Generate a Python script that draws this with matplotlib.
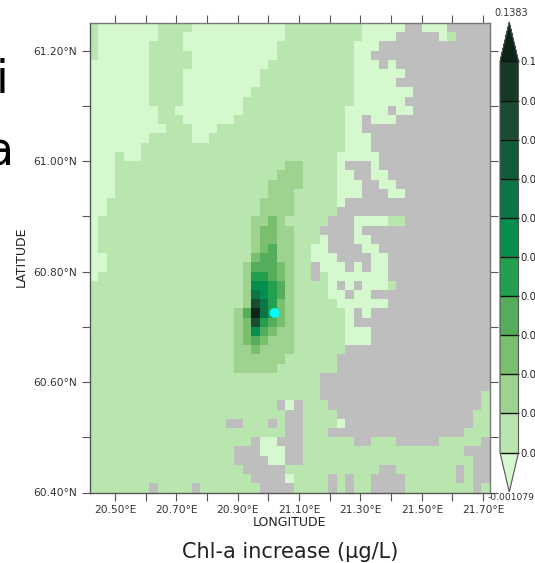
import matplotlib
matplotlib.use('Agg')
import numpy as np
import matplotlib.pyplot as plt
from matplotlib.colors import ListedColormap, BoundaryNorm
from matplotlib.colorbar import ColorbarBase

# each row north to south: "bin:last column of the run", # = land (no data)
rows = [
    "1:0 0:7 1:11 0:22 1:31 0:36 #:38 0:41 #:46",
    "1:0 0:7 1:10 0:22 1:31 0:35 #:40 0:41 1:42 #:46",
    "1:0 0:6 1:10 0:21 1:30 0:33 #:46",
    "1:0 0:6 1:11 0:21 1:30 0:32 #:46",
    "0:6 1:11 0:20 1:30 0:33 #:34 0:35 #:46",
    "0:6 1:10 0:19 1:30 0:36 #:46",
    "0:6 1:10 0:19 1:30 0:35 #:46",
    "0:6 1:10 0:18 1:30 0:37 #:46",
    "0:6 1:10 0:17 1:30 0:36 #:46",
    "0:7 1:9 0:17 1:29 0:34 #:35 0:37 #:46",
    "0:7 1:10 0:16 1:29 0:31 #:32 0:35 #:46",
    "0:8 1:11 0:14 1:29 0:31 #:46",
    "0:6 1:11 0:13 1:29 0:32 #:46",
    "0:5 1:29 0:32 #:46",
    "0:2 1:3 0:5 1:28 0:33 #:46",
    "0:2 1:22 2:24 1:28 0:29 #:32 0:33 #:46",
    "0:2 1:21 2:24 1:28 0:30 #:32 0:34 #:46",
    "0:2 1:20 2:24 1:28 0:31 #:33 0:35 #:46",
    "0:2 1:20 2:23 1:28 0:31 #:34 0:36 #:46",
    "0:1 1:19 2:23 1:28 0:29 #:46",
    "0:1 1:19 2:23 1:28 #:46",
    "0:0 1:18 2:20 3:21 2:22 1:27 #:30 0:34 1:36 #:46",
    "0:0 1:18 2:19 3:21 2:23 1:26 #:30 0:31 #:46",
    "0:0 1:18 2:19 3:21 2:23 1:26 0:27 #:30 0:32 #:46",
    "0:0 1:18 2:19 3:20 4:21 2:23 1:25 0:27 #:31 0:33 #:46",
    "0:1 1:18 3:19 4:21 2:23 1:25 0:28 #:32 0:34 #:46",
    "0:1 1:17 2:18 4:21 3:22 2:23 1:25 #:26 0:29 #:30 0:31 #:32 0:34 #:46",
    "0:0 1:17 2:18 5:20 4:21 3:22 2:23 1:25 #:26 1:27 0:34 #:46",
    "1:17 2:18 6:20 5:21 4:22 2:23 1:27 0:28 #:29 0:30 #:31 0:34 1:35 #:46",
    "1:17 2:18 7:19 6:20 5:21 4:22 2:23 1:27 0:29 #:30 0:32 #:46",
    "1:17 2:18 9:19 7:20 5:21 3:22 2:23 1:28 0:34 #:46",
    "1:16 2:17 4:18 b:19 7:20 5:21 3:22 2:23 1:29 0:30 #:31 0:32 #:46",
    "1:16 2:17 3:18 9:19 5:20 4:21 3:22 2:23 1:29 0:30 #:46",
    "1:16 2:17 3:18 6:19 4:20 3:21 2:23 1:29 0:32 #:46",
    "1:16 2:17 3:18 4:19 3:20 2:23 1:29 0:32 #:46",
    "1:16 2:18 3:19 2:23 1:29 #:46",
    "1:16 2:22 1:28 #:46",
    "1:16 2:21 1:28 #:46",
    "1:26 #:46",
    "1:26 #:46",
    "1:26 #:45 1:46",
    "1:21 #:22 0:23 #:24 1:27 #:45 1:46",
    "1:22 #:24 1:28 #:44 1:46",
    "1:15 #:17 1:20 #:21 1:22 #:24 1:28 0:29 #:44 1:46",
    "1:22 #:24 1:27 #:43 1:46",
    "1:18 #:19 0:21 #:24 1:30 #:32 1:35 #:40 1:45 #:46",
    "1:16 #:19 0:22 #:24 1:43 #:46",
    "1:16 #:20 0:22 #:24 1:44 #:46",
    "1:17 #:22 1:33 #:35 1:42 #:43 1:44 #:46",
    "1:18 #:22 0:23 1:27 #:28 1:29 #:30 1:32 #:36 1:42 #:43 1:44 #:46",
    "1:6 #:7 1:11 #:12 1:19 #:23 1:27 #:28 1:29 #:30 1:32 #:36 1:44 #:45 1:46",
]

levels = [0, 0.01, 0.02, 0.03, 0.04, 0.05, 0.06, 0.07, 0.08, 0.09, 0.1]
# the reference image edge leaves only the first three characters of these
level_labels = ['0.0', '0.0', '0.0', '0.0', '0.0', '0.0', '0.0', '0.0', '0.0', '0.0', '0.1']
colors = ['#d6f8cf', '#b9e5ae', '#9dd38f', '#7abf6e', '#54ad5c', '#22a050',
          '#068e4e', '#0c7547', '#115c3a', '#194c32', '#163a26', '#0c2517']
lon_start = 20.4167
lat_top = 61.25
cell_lon = 1 / 36
cell_lat = 1 / 60
source_lon = 21.02
source_lat = 60.725


def decode(row):
    vals = []
    for run in row.split():
        code, last = run.split(':')
        val = np.nan if code == '#' else (int(code, 16) - 0.5) * 0.01
        vals += [val] * (int(last) + 1 - len(vals))
    return vals


grid = np.array([decode(r) for r in rows])
lon_edges = lon_start + cell_lon * np.arange(grid.shape[1] + 1)
lat_edges = lat_top - cell_lat * np.arange(grid.shape[0] + 1)

W, H = 535, 563
fig = plt.figure(figsize=(W / 100, H / 100), dpi=100)
ax = fig.add_axes([89.5 / W, 1 - 492.5 / H, 400.5 / W, 469.5 / H])
ax.set_facecolor('#bebebe')

cmap = ListedColormap(colors[1:-1])
cmap.set_under(colors[0])
cmap.set_over(colors[-1])
norm = BoundaryNorm(levels, cmap.N)
ax.pcolormesh(lon_edges, lat_edges, grid, cmap=cmap, norm=norm)
ax.scatter([source_lon], [source_lat], s=50, color='#00ffff', edgecolors='none', zorder=5)

ax.set_xlim(lon_start, lon_start + cell_lon * grid.shape[1])
ax.set_ylim(60.4, lat_top)
ax.set_xticks(np.arange(20.5, 21.75, 0.1))
ax.set_xticklabels([f'{v:.2f}°E' if i % 2 == 0 else '' for i, v in enumerate(np.arange(20.5, 21.75, 0.1))])
ax.set_yticks(np.arange(60.4, 61.25, 0.1))
ax.set_yticklabels([f'{v:.2f}°N' if i % 2 == 0 else '' for i, v in enumerate(np.arange(60.4, 61.25, 0.1))])
ax.tick_params(top=True, right=True, length=5.5, width=0.8, color='#555555',
               labelsize=7.7, labelcolor='#333333', pad=3.5)
for s in ax.spines.values():
    s.set_color('#777777')
    s.set_linewidth(1)
ax.spines['left'].set_color('#555555')
ax.spines['bottom'].set_color('#555555')

fig.text(21 / W, 1 - 257 / H, 'LATITUDE', rotation=90, ha='center', va='center', fontsize=9, color='#222222')
fig.text(289.5 / W, 1 - 523 / H, 'LONGITUDE', ha='center', va='center', fontsize=9, color='#222222')
fig.text(290 / W, 1 - 552 / H, 'Chl-a increase (µg/L)', ha='center', va='center', fontsize=15, color='#222222')

# pieces of the slide text behind the figure, cut by the image edge
fig.text(8 / W, 1 - 93 / H, 'i', ha='right', va='baseline', fontsize=33, color='black')
fig.text(13 / W, 1 - 165 / H, 'a', ha='right', va='baseline', fontsize=33, color='black')

# colorbar axes holds the triangles too, they sit inside its box
cax = fig.add_axes([500 / W, 1 - 492 / H, 18.5 / W, 470 / H])
cb = ColorbarBase(cax, cmap=cmap, norm=norm, boundaries=[-0.01] + levels + [0.11], extend='both',
                  extendfrac=0.101, spacing='uniform', ticks=levels, drawedges=True)
cb.set_ticklabels(level_labels)
cb.ax.tick_params(length=0, labelsize=7.3, pad=1, labelcolor='#222222')
cb.outline.set_edgecolor('#555555')
cb.outline.set_linewidth(0.8)
cb.dividers.set_color('#111111')
cb.dividers.set_linewidth(1)

fig.text(511.5 / W, 1 - 13.5 / H, '0.1383', ha='center', va='center', fontsize=6.9, color='#333333')
fig.text(511 / W, 1 - 498 / H, '-0.001079', ha='center', va='center', fontsize=6.6, color='#333333')

fig.savefig('out.png', dpi=100)
